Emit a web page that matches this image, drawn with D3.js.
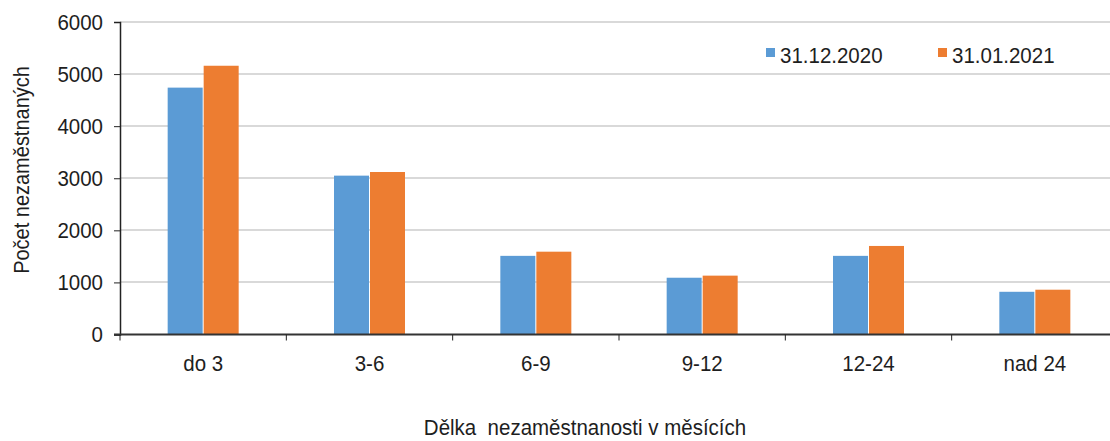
<!DOCTYPE html>
<html>
<head>
<meta charset="utf-8">
<script src="https://cdn.jsdelivr.net/npm/d3@7"></script>
<style>
  body { margin: 0; background: #fff; }
  text { font-family: "Liberation Sans", Arial, sans-serif; fill: #1e1e1e; }
</style>
</head>
<body>
<div id="chart"></div>
<script>
var categories = ["do 3", "3-6", "6-9", "9-12", "12-24", "nad 24"];
var seriesNames = ["31.12.2020", "31.01.2021"];
var values2020 = [4740, 3050, 1510, 1090, 1510, 820];
var values2021 = [5160, 3120, 1590, 1130, 1700, 860];
var yTicks = [0, 1000, 2000, 3000, 4000, 5000, 6000];
var colors = ["#5b9bd5", "#ed7d31"];

var width = 1110, height = 441;
var margin = {left: 120, top: 22, bottom: 106};
var fontSize = "20.5px";
var stretch = 1.08; // text in the picture is a bit taller than wide

var svg = d3.select("#chart").append("svg")
    .attr("width", width)
    .attr("height", height);

var x = d3.scaleBand()
    .domain(categories)
    .range([margin.left, 1118]);

var y = d3.scaleLinear()
    .domain([0, 6000])
    .range([height - margin.bottom - 0.5, margin.top]);

// stretched text placed with its baseline at (tx, ty)
function label(parent, tx, ty, str, anchor) {
  return parent.append("text")
    .attr("transform", "translate(" + tx + "," + ty + ") scale(1," + stretch + ")")
    .attr("text-anchor", anchor || "start")
    .attr("xml:space", "preserve")
    .style("font-size", fontSize)
    .text(str);
}

// gridlines
svg.append("g")
    .selectAll("line")
    .data(yTicks.slice(1))
    .enter().append("line")
    .attr("x1", margin.left)
    .attr("x2", width)
    .attr("y1", function(d) { return Math.round(y(d)); })
    .attr("y2", function(d) { return Math.round(y(d)); })
    .style("stroke", "#d9d9d9")
    .style("stroke-width", 2);

var barW = 35;
var data = categories.map(function(c, i) {
  return {cat: c, vals: [values2020[i], values2021[i]]};
});

var groups = svg.append("g").selectAll("g")
    .data(data)
    .enter().append("g")
    .attr("transform", function(d) {
      return "translate(" + (x(d.cat) + x.bandwidth() / 2) + ",0)";
    });

groups.selectAll("rect")
    .data(function(d) { return d.vals; })
    .enter().append("rect")
    .attr("x", function(d, i) { return i === 0 ? -barW - 0.5 : 0.5; })
    .attr("width", barW)
    .attr("y", function(d) { return y(d); })
    .attr("height", function(d) { return y(0) - y(d); })
    .style("fill", function(d, i) { return colors[i]; });

// y axis
var yAxis = svg.append("g")
    .attr("transform", "translate(" + margin.left + ",0)")
    .call(d3.axisLeft(y).tickValues(yTicks).tickSize(6).tickPadding(11).tickFormat(d3.format("d")));
yAxis.select(".domain").style("stroke", "#222").style("stroke-width", 1.5);
yAxis.selectAll(".tick line").style("stroke", "#222");
yAxis.selectAll("text")
    .style("font-size", fontSize)
    .style("font-family", "Liberation Sans, Arial, sans-serif")
    .attr("fill", "#1e1e1e")
    .attr("transform", "scale(1," + stretch + ")");

// x axis
var xAxis = svg.append("g")
    .attr("transform", "translate(0," + y(0) + ")");
xAxis.append("line")
    .attr("x1", margin.left - 6)
    .attr("x2", width)
    .style("stroke", "#333")
    .style("stroke-width", 2);
xAxis.selectAll(".xt")
    .data(categories)
    .enter().append("line")
    .attr("class", "xt")
    .attr("x1", function(d) { return x(d); })
    .attr("x2", function(d) { return x(d); })
    .attr("y1", 0)
    .attr("y2", 6)
    .style("stroke", "#222");
categories.forEach(function(c) {
  label(xAxis, x(c) + x.bandwidth() / 2, 36, c, "middle");
});

// axis titles
svg.append("text")
    .attr("transform", "translate(29,170) rotate(-90) scale(1," + stretch + ")")
    .attr("text-anchor", "middle")
    .style("font-size", "20px")
    .text("Počet nezaměstnaných");

label(svg, 585, 435, "Dělka  nezaměstnanosti v měsících", "middle");

// legend
var legend = svg.append("g").attr("class", "legend");
var legendX = [766, 938];
seriesNames.forEach(function(name, i) {
  legend.append("rect")
    .attr("x", legendX[i])
    .attr("y", 48)
    .attr("width", 9)
    .attr("height", 9)
    .style("fill", colors[i]);
  label(legend, legendX[i] + 14, 63, name);
});
</script>
</body>
</html>
